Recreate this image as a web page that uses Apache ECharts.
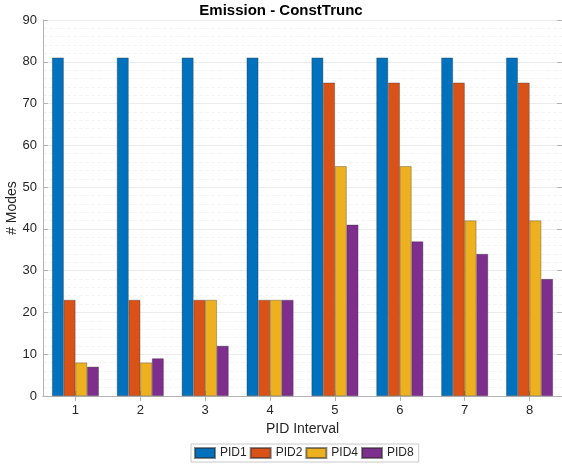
<!DOCTYPE html>
<html>
<head>
<meta charset="utf-8">
<script src="https://cdn.jsdelivr.net/npm/echarts@6/dist/echarts.min.js"></script>
<style>
  html, body { margin: 0; padding: 0; background: #fff; }
  #chart { width: 562px; height: 468px; }
</style>
</head>
<body>
<div id="chart"></div>
<script>
// PID intervals along the x axis
const categories = ['1', '2', '3', '4', '5', '6', '7', '8'];
// Number of modes per PID setting
const pid1 = [81, 81, 81, 81, 81, 81, 81, 81];
const pid2 = [23, 23, 23, 23, 75, 75, 75, 75];
const pid4 = [8, 8, 23, 23, 55, 55, 42, 42];
const pid8 = [7, 9, 12, 23, 41, 37, 34, 28];
const seriesNames = ['PID1', 'PID2', 'PID4', 'PID8'];
const seriesData = [pid1, pid2, pid4, pid8];
const colors = ['#0072BD', '#D95319', '#EDB120', '#7E2F8E'];

const FONT = 'Liberation Sans, Arial, Helvetica, sans-serif';
const axisGray = '#b3b3b3';
const textColor = '#262626';

const chart = echarts.init(document.getElementById('chart'), null, { renderer: 'canvas' });

chart.setOption({
  animation: false,
  textStyle: { fontFamily: FONT },
  title: {
    text: 'Emission - ConstTrunc',
    left: 'center',
    top: -2,
    textStyle: { fontFamily: FONT, fontSize: 15, fontWeight: 'bold', color: '#000' }
  },
  color: colors,
  grid: { left: 43, right: 0, top: 20, bottom: 72, containLabel: false, outerBoundsMode: 'none' },
  legend: {
    data: seriesNames,
    top: 444,
    left: 191,
    itemWidth: 20,
    itemHeight: 10,
    itemGap: 3,
    padding: [3, 5, 3, 3],
    borderColor: '#c8c8c8',
    borderWidth: 1,
    borderRadius: 0,
    textStyle: { fontFamily: FONT, fontSize: 12, color: textColor },
    icon: 'rect'
  },
  xAxis: [
    {
      type: 'category',
      data: categories,
      name: 'PID Interval',
      nameLocation: 'middle',
      nameGap: 26,
      nameTextStyle: { fontFamily: FONT, fontSize: 14, color: textColor },
      axisLine: { show: true, lineStyle: { color: axisGray, width: 1 } },
      axisTick: { show: true, inside: true, alignWithLabel: true, length: 5, lineStyle: { color: axisGray } },
      axisLabel: { fontFamily: FONT, fontSize: 13, color: textColor, margin: 8 },
      splitLine: { show: false }
    },
    {
      type: 'category',
      data: categories,
      position: 'top',
      axisLine: { show: true, lineStyle: { color: axisGray, width: 1 } },
      axisTick: { show: true, inside: true, alignWithLabel: true, length: 5, lineStyle: { color: axisGray } },
      axisLabel: { show: false },
      splitLine: { show: false }
    }
  ],
  yAxis: [
    {
      type: 'value',
      min: 0,
      max: 90,
      interval: 10,
      name: '# Modes',
      nameLocation: 'middle',
      nameGap: 24,
      nameMoveOverlap: false,
      nameTextStyle: { fontFamily: FONT, fontSize: 14, color: textColor },
      axisLine: { show: true, lineStyle: { color: axisGray, width: 1 } },
      axisTick: { show: true, inside: true, length: 5, lineStyle: { color: axisGray } },
      axisLabel: { fontFamily: FONT, fontSize: 13, color: textColor, margin: 6 },
      splitLine: { show: true, lineStyle: { color: '#ececec', width: 1 } },
      minorTick: { show: false, splitNumber: 5 },
      minorSplitLine: { show: true, lineStyle: { color: '#f4f4f4', width: 1, type: 'dashed' } }
    },
    {
      type: 'value',
      min: 0,
      max: 90,
      interval: 10,
      position: 'right',
      axisLine: { show: true, lineStyle: { color: axisGray, width: 1 } },
      axisTick: { show: true, inside: true, length: 5, lineStyle: { color: axisGray } },
      axisLabel: { show: false },
      splitLine: { show: false }
    }
  ],
  series: seriesNames.map((name, i) => ({
    name: name,
    type: 'bar',
    xAxisIndex: 0,
    yAxisIndex: 0,
    data: seriesData[i],
    barWidth: 11.7,
    barGap: '0%',
    itemStyle: {
      color: colors[i],
      borderColor: 'rgba(40,40,40,0.55)',
      borderWidth: 0.6
    }
  }))
});
</script>
</body>
</html>
